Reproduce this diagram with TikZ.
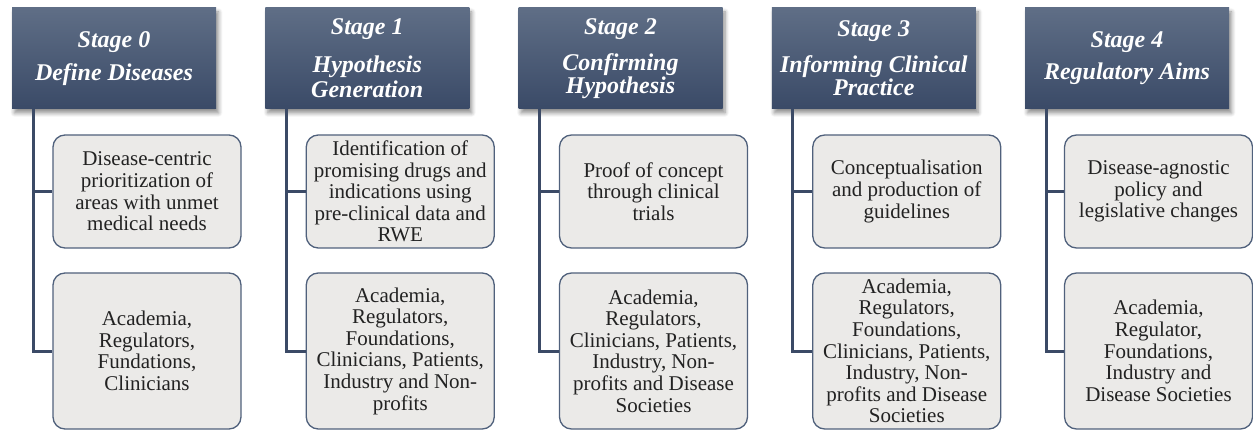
\documentclass[tikz,border=0pt]{standalone}
\usepackage{fontspec}
\setmainfont{Liberation Serif}
\usetikzlibrary{shadows.blur}

\definecolor{hdtop}{HTML}{5F6E86}
\definecolor{hdbot}{HTML}{3A4A67}
\definecolor{stemblue}{HTML}{3B4A66}
\definecolor{boxedge}{HTML}{50617C}
\definecolor{boxfill}{HTML}{EBEAE8}
\definecolor{ink}{HTML}{222222}

\tikzset{
  stagehead/.style={rectangle, minimum width=204pt, minimum height=101pt,
    inner sep=0pt, top color=hdtop, bottom color=hdbot, text=white,
    align=center, font=\fontsize{24}{24}\selectfont\bfseries\itshape,
    blur shadow={shadow xshift=2.5pt, shadow yshift=-4pt,
      shadow blur steps=6, shadow blur radius=4pt, shadow opacity=45}},
  taskbox/.style={rectangle, rounded corners=12pt, draw=boxedge,
    line width=1.3pt, fill=boxfill, minimum width=188pt, inner sep=0pt,
    align=center, text=ink, font=\fontsize{21}{21.6}\selectfont},
  upperbox/.style={taskbox, minimum height=113pt},
  lowerbox/.style={taskbox, minimum height=156pt},
  stemline/.style={draw=stemblue, line width=3pt}
}

\begin{document}
\begin{tikzpicture}[x=1pt, y=-1pt]
\useasboundingbox (0,0) rectangle (1253,430);

% ---- stage headers
\node[stagehead] (h0) at (114,58.5)    {Stage 0\\[9pt]Define Diseases};
\node[stagehead] (h1) at (367.25,58.5) {Stage 1\\[14pt]Hypothesis\\[1pt]Generation};
\node[stagehead] (h2) at (620.5,58.5)  {Stage 2\\[12pt]Confirming\\[-1pt]Hypothesis};
\node[stagehead] (h3) at (873.75,58.5) {Stage 3\\[12pt]Informing Clinical\\[-1pt]Practice};
\node[stagehead] (h4) at (1127,58.5)   {Stage 4\\[8pt]Regulatory Aims};

% ---- upper boxes: aims of each stage
\node[upperbox] (a0) at (147,191.5)    {Disease-centric\\prioritization of\\areas with unmet\\medical needs};
\node[upperbox] (a1) at (400.25,191.5) {Identification of\\promising drugs and\\indications using\\pre-clinical data and\\RWE};
\node[upperbox] (a2) at (653.5,191.5)  {Proof of concept\\through clinical\\trials};
\node[upperbox] (a3) at (906.75,191.5) {Conceptualisation\\and production of\\guidelines};
\node[upperbox] (a4) at (1158.5,191.5) {Disease-agnostic\\policy and\\legislative changes};

% ---- lower boxes: stakeholders
\node[lowerbox] (b0) at (147,351)    {Academia,\\Regulators,\\Fundations,\\Clinicians};
\node[lowerbox] (b1) at (400.25,351) {Academia,\\Regulators,\\Foundations,\\Clinicians, Patients,\\Industry and Non-\\profits};
\node[lowerbox] (b2) at (653.5,351)  {Academia,\\Regulators,\\Clinicians, Patients,\\Industry, Non-\\profits and Disease\\Societies};
\node[lowerbox] (b3) at (906.75,351) {Academia,\\Regulators,\\Foundations,\\Clinicians, Patients,\\Industry, Non-\\profits and Disease\\Societies};
\node[lowerbox] (b4) at (1158.5,351) {Academia,\\Regulator,\\Foundations,\\Industry and\\Disease Societies};

% ---- stems hanging from each header
\coordinate (t0) at (33,109);
\coordinate (t1) at (286.25,109);
\coordinate (t2) at (539.5,109);
\coordinate (t3) at (792.75,109);
\coordinate (t4) at (1046,109);

\foreach \i in {0,...,4}{
  \draw[stemline] (t\i) |- (b\i.west);
  \draw[stemline] (t\i |- a\i.west) -- (a\i.west);
}
\end{tikzpicture}
\end{document}
